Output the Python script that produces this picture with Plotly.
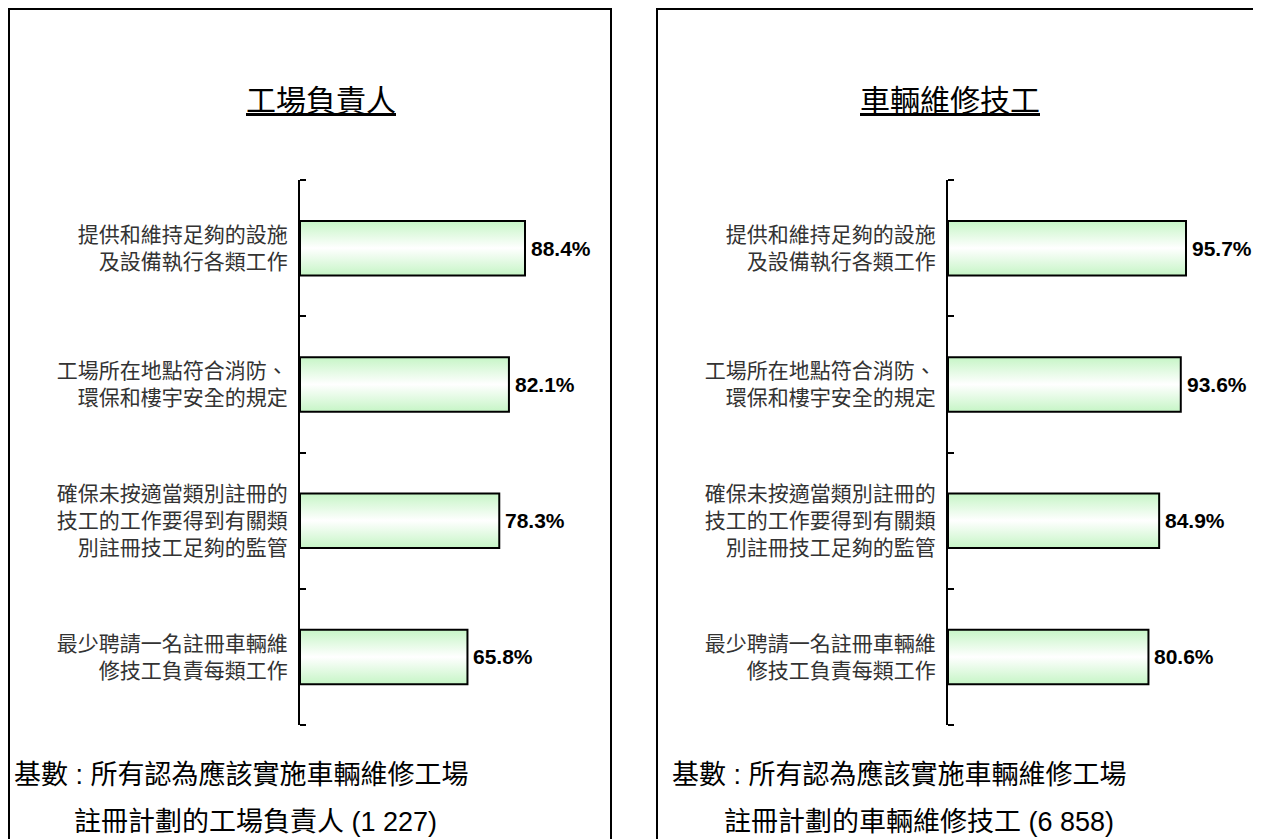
import plotly.graph_objects as go

# ==== dados ====
categorias = [
    "提供和維持足夠的設施<br>及設備執行各類工作",
    "工場所在地點符合消防、<br>環保和樓宇安全的規定",
    "確保未按適當類別註冊的<br>技工的工作要得到有關類<br>別註冊技工足夠的監管",
    "最少聘請一名註冊車輛維<br>修技工負責每類工作",
]
valores_responsaveis = [88.4, 82.1, 78.3, 65.8]
valores_tecnicos = [95.7, 93.6, 84.9, 80.6]

titulo_esq = "工場負責人"
titulo_dir = "車輛維修技工"
base_esq = ["基數 : 所有認為應該實施車輛維修工場", "註冊計劃的工場負責人 (1 227)"]
base_dir = ["基數 : 所有認為應該實施車輛維修工場", "註冊計劃的車輛維修技工 (6 858)"]

# a página tem 8px de margem no body: a figura começa em (8, 8)
OFF = 8
W, H = 1261 - OFF, 839 - OFF
FONTE = "Liberation Sans, Arial, Noto Sans CJK TC"
VERDE = "#c6f5c6"
MEIA = 0.2  # meia altura da barra (em unidades de categoria)


def px(x):
    return (x - OFF) / W


def py(y):
    return 1 - (y - OFF) / H


fig = go.Figure()


### ==== barras com gradiente ==== ###
def barras(valores, xref, yref):
    for i, v in enumerate(valores):
        fig.add_trace(go.Scatter(
            x=[0, v, v, 0, 0],
            y=[i - MEIA, i - MEIA, i + MEIA, i + MEIA, i - MEIA],
            xaxis=xref, yaxis=yref,
            mode="lines", fill="toself",
            fillgradient=dict(type="vertical",
                              colorscale=[[0, VERDE], [0.5, "#ffffff"], [1, VERDE]]),
            line=dict(color="black", width=2),
            hoverinfo="skip", showlegend=False,
        ))
        fig.add_annotation(
            x=v, y=i, xref=xref, yref=yref, xanchor="left", yanchor="middle", xshift=4,
            text=f"<b>{v:.1f}%</b>", showarrow=False,
            font=dict(family=FONTE, size=21, color="black"),
        )


barras(valores_responsaveis, "x", "y")
barras(valores_tecnicos, "x2", "y2")

eixo_y = dict(
    range=[len(categorias) - 0.5, -0.5],
    tickmode="array",
    tickvals=list(range(len(categorias))),
    ticktext=categorias,
    ticks="",
    minor=dict(ticks="inside", tickmode="array",
               tickvals=[i - 0.5 for i in range(len(categorias) + 1)],
               ticklen=6, tickwidth=2, tickcolor="black"),
    showline=True, linecolor="black", linewidth=2,
    showgrid=False, zeroline=False,
    ticklabelstandoff=6,
    tickfont=dict(family=FONTE, size=21, color="#333333"),
    fixedrange=True,
)

fig.update_layout(
    width=W, height=H,
    margin=dict(l=0, r=0, t=0, b=0),
    paper_bgcolor="white", plot_bgcolor="white",
    showlegend=False,
    xaxis=dict(domain=[px(300), px(554.5)], range=[0, 100], visible=False, anchor="y"),
    yaxis=dict(domain=[py(725), py(180)], anchor="x", **eixo_y),
    xaxis2=dict(domain=[px(948), px(1196.7)], range=[0, 100], visible=False, anchor="y2"),
    yaxis2=dict(domain=[py(725), py(180)], anchor="x2", **eixo_y),
)

# molduras
fig.add_shape(type="rect", xref="paper", yref="paper",
              x0=px(9), x1=px(611), y0=py(9), y1=py(900),
              line=dict(color="black", width=2))
fig.add_shape(type="rect", xref="paper", yref="paper",
              x0=px(657), x1=px(1300), y0=py(9), y1=py(900),
              line=dict(color="black", width=2))

# títulos
for txt, cx in [(titulo_esq, 321), (titulo_dir, 950)]:
    fig.add_annotation(x=px(cx), y=py(98), xref="paper", yref="paper",
                       xanchor="center", yanchor="middle",
                       text=f"<u>{txt}</u>", showarrow=False,
                       font=dict(family="Noto Sans CJK TC", size=30, color="black"))

# base
for linhas, x1, x2 in [(base_esq, 12, 72), (base_dir, 670, 722)]:
    fig.add_annotation(x=px(x1), y=py(775), xref="paper", yref="paper",
                       xanchor="left", yanchor="middle", text=linhas[0], showarrow=False,
                       font=dict(family=FONTE, size=27, color="black"))
    fig.add_annotation(x=px(x2), y=py(822), xref="paper", yref="paper",
                       xanchor="left", yanchor="middle", text=linhas[1], showarrow=False,
                       font=dict(family=FONTE, size=27, color="black"))

fig.write_html("out.html")
